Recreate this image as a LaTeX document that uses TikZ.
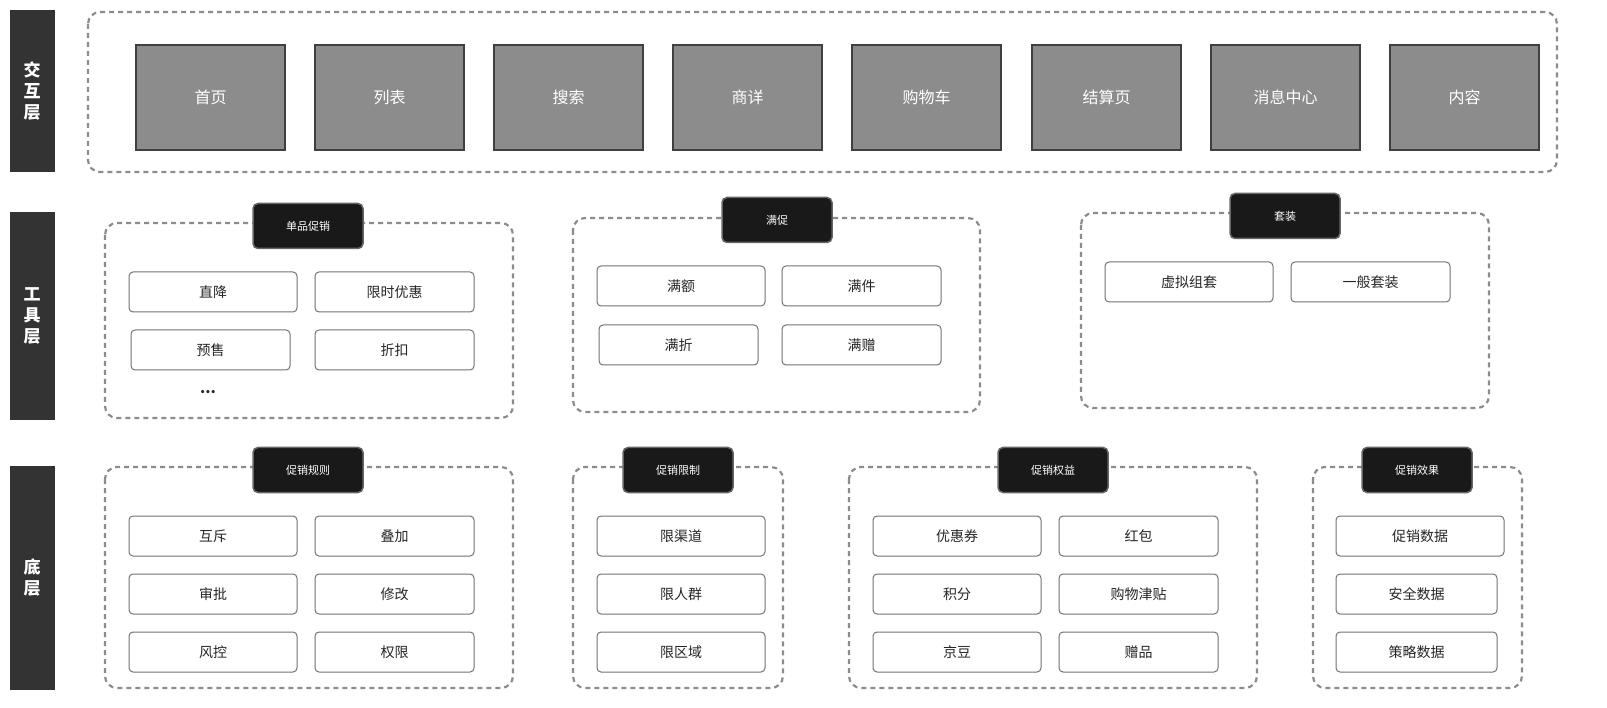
\documentclass[tikz,border=0pt]{standalone}
\usepackage{fontspec}
\setmainfont{Noto Sans CJK SC}
\begin{document}
\begin{tikzpicture}[x=1pt,y=-1pt,
  side/.style={fill=black!80,draw=none},
  grp/.style={draw=black!45,dashed,line width=2.2pt,dash pattern=on 5pt off 4pt,rounded corners=12pt,fill=white},
  gbox/.style={fill=black!45,draw=black!75,line width=1.2pt},
  item/.style={draw=black!55,line width=1pt,rounded corners=4pt,fill=white},
  tab/.style={fill=black!90,draw=black!60,line width=1.5pt,rounded corners=5pt,text=white,font=\fontsize{11}{13}\selectfont,minimum width=110pt,minimum height=45pt},
  lbl/.style={font=\fontsize{14}{16}\selectfont,text=black!85}]
\useasboundingbox (0,0) rectangle (1607,708);
\fill[white] (0,0) rectangle (1607,708);
% side labels
\fill[side] (10,10) rectangle (55,172);
\node[text=white,font=\fontsize{17}{21}\selectfont\bfseries,align=center] (s1) at (32,91) {交\\互\\层};
\fill[side] (10,212) rectangle (55,420);
\node[text=white,font=\fontsize{17}{21}\selectfont\bfseries,align=center] (s2) at (32,316) {工\\具\\层};
\fill[side] (10,466) rectangle (55,690);
\node[text=white,font=\fontsize{17}{21}\selectfont\bfseries,align=center] (s3) at (32,578) {底\\层};
% top layer
\draw[grp] (88,12) rectangle (1557,172);
\foreach \x/\t [count=\i] in {136/首页,315/列表,494/搜索,673/商详,852/购物车,1032/结算页,1211/消息中心,1390/内容}{
  \draw[gbox] (\x,45) rectangle ++(149,105);
  \node[text=white,font=\fontsize{16}{19}\selectfont] (g\i) at (\x+74.5,97.5) {\t};
}
\newcommand{\itm}[5]{\draw[item] (#1,#2) rectangle (#3,#4); \node[lbl] at ({(#1+#3)/2},{(#2+#4)/2}) {#5};}
% tool layer
\draw[grp] (105,223) rectangle (513,418);
\node[tab] (t1) at (308,226) {单品促销};
\itm{129}{272}{297}{312}{直降}
\itm{315}{272}{474}{312}{限时优惠}
\itm{131}{330}{290}{370}{预售}
\itm{315}{330}{474}{370}{折扣}
\node[lbl,font=\fontsize{15}{15}\selectfont\bfseries] (dots) at (208,392) {...};
\draw[grp] (573,218) rectangle (980,412);
\node[tab] (t2) at (777,220) {满促};
\itm{597}{266}{765}{306}{满额}
\itm{782}{266}{941}{306}{满件}
\itm{599}{325}{758}{365}{满折}
\itm{782}{325}{941}{365}{满赠}
\draw[grp] (1081,213) rectangle (1489,408);
\node[tab] (t3) at (1285,216) {套装};
\itm{1105}{262}{1273}{302}{虚拟组套}
\itm{1291}{262}{1450}{302}{一般套装}
% bottom layer
\draw[grp] (105,467) rectangle (513,688);
\node[tab] (b1) at (308,470) {促销规则};
\itm{129}{516}{297}{556}{互斥}
\itm{315}{516}{474}{556}{叠加}
\itm{129}{574}{297}{614}{审批}
\itm{315}{574}{474}{614}{修改}
\itm{129}{632}{297}{672}{风控}
\itm{315}{632}{474}{672}{权限}
\draw[grp] (573,467) rectangle (783,688);
\node[tab] (b2) at (678,470) {促销限制};
\itm{597}{516}{765}{556}{限渠道}
\itm{597}{574}{765}{614}{限人群}
\itm{597}{632}{765}{672}{限区域}
\draw[grp] (849,467) rectangle (1257,688);
\node[tab] (b3) at (1053,470) {促销权益};
\itm{873}{516}{1041}{556}{优惠券}
\itm{1059}{516}{1218}{556}{红包}
\itm{873}{574}{1041}{614}{积分}
\itm{1059}{574}{1218}{614}{购物津贴}
\itm{873}{632}{1041}{672}{京豆}
\itm{1059}{632}{1218}{672}{赠品}
\draw[grp] (1313,467) rectangle (1522,688);
\node[tab] (b4) at (1417,470) {促销效果};
\itm{1336}{516}{1504}{556}{促销数据}
\itm{1336}{574}{1497}{614}{安全数据}
\itm{1336}{632}{1497}{672}{策略数据}
\end{tikzpicture}
\end{document}
